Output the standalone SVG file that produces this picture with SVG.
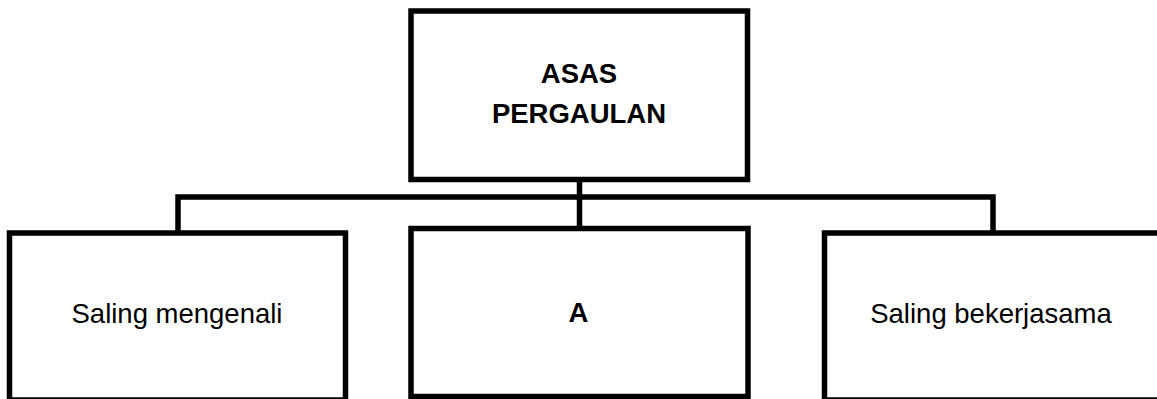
<svg xmlns="http://www.w3.org/2000/svg" width="1157" height="399" viewBox="0 0 1157 399">
<style>
.box{fill:#fff;stroke:#000;stroke-width:5.5}
.conn{fill:none;stroke:#000;stroke-width:5.5}
.t{font-family:"Liberation Sans",Arial,sans-serif;font-size:27.5px;fill:#000;text-anchor:middle}
.b{font-weight:bold}
</style>
<rect width="1157" height="399" fill="#fff"/>
<g id="connectors">
<path class="conn" d="M579.5 179.5 V228.5"/>
<path class="conn" d="M178 233 V197 H993 V233"/>
</g>
<g id="root">
<rect class="box" x="411" y="11" width="336.5" height="168.5"/>
<text class="t b" x="579" y="82.5">ASAS</text>
<text class="t b" x="579" y="122.5">PERGAULAN</text>
</g>
<g id="left">
<rect class="box" x="9.5" y="233" width="336" height="167"/>
<text class="t" x="177" y="323">Saling mengenali</text>
</g>
<g id="middle">
<rect class="box" x="411" y="228.5" width="337" height="168"/>
<text class="t b" x="578.5" y="321.5">A</text>
</g>
<g id="right">
<rect class="box" x="824.5" y="233" width="345" height="167"/>
<text class="t" x="991" y="323">Saling bekerjasama</text>
</g>
</svg>
